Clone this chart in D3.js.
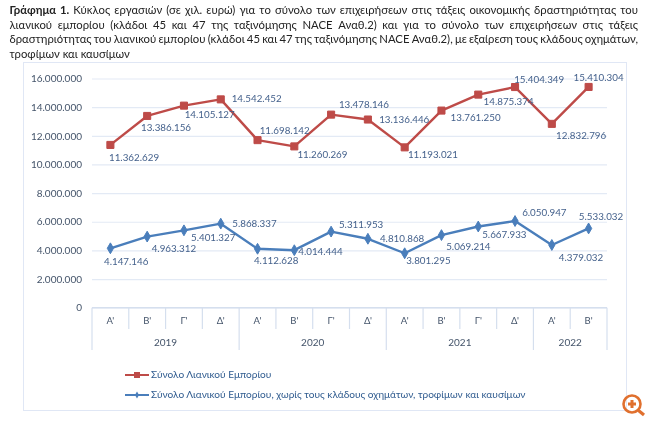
<!DOCTYPE html>
<html><head><meta charset="utf-8">
<script src="https://cdn.jsdelivr.net/npm/d3@7"></script>
<style>html,body{margin:0;background:#fff}svg{display:block;filter:blur(.45px)}text{font-family:Lato,"Noto Sans",sans-serif}</style>
</head><body><svg id="c" width="650" height="422"></svg>
<script>
const quarters=["Α'","Β'","Γ'","Δ'","Α'","Β'","Γ'","Δ'","Α'","Β'","Γ'","Δ'","Α'","Β'"];
const years=[["2019",4],["2020",4],["2021",4],["2022",2]];
const retailName="Σύνολο Λιανικού Εμπορίου";
const exclName="Σύνολο Λιανικού Εμπορίου, χωρίς τους κλάδους οχημάτων, τροφίμων και καυσίμων";
const retail=[11362629,13386156,14105127,14542452,11698142,11260269,13478146,13136446,11193021,13761250,14875374,15404349,12832796,15410304];
const excl=[4147146,4963312,5401327,5868337,4112628,4014444,5311953,4810868,3801295,5069214,5667933,6050947,4379032,5533032];
const yTicks=[0,2e6,4e6,6e6,8e6,10e6,12e6,14e6,16e6];
const titleBold="Γράφημα 1.";
const titleLines=[" Κύκλος εργασιών (σε χιλ. ευρώ) για το σύνολο των επιχειρήσεων στις τάξεις οικονομικής δραστηριότητας του",
"λιανικού εμπορίου (κλάδοι 45 και 47 της ταξινόμησης NACE Αναθ.2) και για το σύνολο των επιχειρήσεων στις τάξεις",
"δραστηριότητας του λιανικού εμπορίου (κλάδοι 45 και 47 της ταξινόμησης NACE Αναθ.2), με εξαίρεση τους κλάδους οχημάτων,",
"τροφίμων και καυσίμων"];
const retailLabelOffset=[[-1.4,14],[-6.2,12.8],[.7,10.1],[10.9,.6],[2.1,-9.1],[3.1,9.6],[7.8,-8.9],[11.3,.8],[3.2,8.6],[9.1,8.1],[5.3,8.1],[-.9,-7],[4.3,12.4],[-15.1,-8.7]];
const exclLabelOffset=[[-6.4,14],[4.5,12.7],[7,8],[11.5,1.1],[-3.6,12.5],[3.9,2.1],[7.8,-5.6],[12,.5],[1.5,8.1],[4.7,12.2],[3.9,9.2],[7.1,-8],[7,13.3],[-9.8,-11.1]];

const RED="#be4b48",BLUE="#4a7ebb",GRID="#e3eaf5",AX="#d5dfee",TXT="#44546a",LBL="#44618c",LEG="#2f5b8f";
const fmt=v=>d3.format(",")(v).replace(/,/g,".");
const svg=d3.select("#c");
const x=d3.scaleBand().domain(d3.range(quarters.length)).range([92,607]);
const y=d3.scaleLinear().domain([0,16e6]).range([307.7,78.5]);
const cx=i=>x(i)+x.bandwidth()/2;

// title
titleLines.forEach((t,i)=>{
  const el=svg.append("text").attr("x",9.5).attr("y",14+i*14.6).attr("font-size",11.3).attr("fill","#222");
  if(i===0) el.append("tspan").attr("font-weight",700).text(titleBold);
  el.append("tspan").attr("xml:space","preserve").text(t);
  if(i<3){
    const len=el.node().getComputedTextLength();
    const spaces=((i===0?titleBold:"")+t).split(" ").length-1;
    el.style("word-spacing",((638-9.5-len)/spaces)+"px");
  }
});

// frame
svg.append("rect").attr("x",23.5).attr("y",62.5).attr("width",603).attr("height",348).attr("fill","none").attr("stroke","#e0e7f5");

// grid and y axis
const yAxis=d3.axisLeft(y).tickValues(yTicks).tickFormat(fmt).tickSize(-(607-92)).tickPadding(10);
const gy=svg.append("g").attr("transform","translate(92,0)").call(yAxis);
gy.select(".domain").remove();
gy.selectAll("line").attr("stroke",GRID).attr("stroke-width",1.2);
gy.selectAll("text").attr("font-size",10).attr("fill",TXT);

// category axis
const gx=svg.append("g");
gx.append("line").attr("x1",92).attr("x2",607).attr("y1",y(0)).attr("y2",y(0)).attr("stroke",AX).attr("stroke-width",1.2);
d3.range(quarters.length+1).forEach(i=>{
  const px=i<quarters.length?x(i):607;
  const isYear=d3.cumsum(years,d=>d[1]).includes(i)||i===0;
  gx.append("line").attr("x1",px).attr("x2",px).attr("y1",y(0)).attr("y2",isYear?350:329).attr("stroke",AX).attr("stroke-width",1.2);
});
gx.selectAll("text.q").data(quarters).join("text").attr("class","q").attr("x",(d,i)=>cx(i)).attr("y",322)
  .attr("text-anchor","middle").attr("dominant-baseline","middle").attr("font-size",9.5).attr("fill",TXT).text(d=>d);
let acc=0;
years.forEach(([yr,n])=>{
  gx.append("text").attr("x",x(acc)+x.bandwidth()*n/2).attr("y",343).attr("text-anchor","middle").attr("dominant-baseline","middle")
    .attr("font-size",10).attr("fill",TXT).text(yr);
  acc+=n;
});

// series
const line=d3.line().x((d,i)=>cx(i)).y(d=>y(d));
function drawSeries(vals,off,color,sym,size){
  svg.append("path").attr("d",line(vals)).attr("fill","none").attr("stroke",color).attr("stroke-width",2.4).attr("stroke-linejoin","round");
  const g=svg.append("g");
  g.selectAll("path").data(vals).join("path").attr("d",d3.symbol(sym,size)())
    .attr("transform",(d,i)=>`translate(${cx(i)},${y(d)})`).attr("fill",color).attr("stroke",color);
  g.selectAll("text").data(vals).join("text").attr("x",(d,i)=>cx(i)+off[i][0]).attr("y",(d,i)=>y(d)+off[i][1])
    .attr("dominant-baseline","middle").attr("font-size",9.8).attr("fill",LBL).text(fmt);
}
drawSeries(retail,retailLabelOffset,RED,d3.symbolSquare,50);
drawSeries(excl,exclLabelOffset,BLUE,d3.symbolDiamond,34);

// legend
[[retailName,RED,d3.symbolSquare,36,375],[exclName,BLUE,d3.symbolDiamond,14,395]].forEach(([name,c,s,sz,ly])=>{
  svg.append("line").attr("x1",125).attr("x2",149).attr("y1",ly).attr("y2",ly).attr("stroke",c).attr("stroke-width",2);
  svg.append("path").attr("d",d3.symbol(s,sz)()).attr("transform",`translate(137,${ly})`).attr("fill",c);
  svg.append("text").attr("x",151).attr("y",ly).attr("dominant-baseline","middle").attr("font-size",10.1).attr("fill",LEG).text(name);
});

// magnifier badge of the source page
const m=svg.append("g").attr("transform","translate(632,404)").attr("fill","none").attr("stroke","#e0702e").attr("stroke-width",2.6);
m.append("circle").attr("r",8.5);
m.append("line").attr("x1",6.5).attr("y1",6.5).attr("x2",12).attr("y2",11).attr("stroke-width",3.2);
m.append("path").attr("d","M-4 0H4M0 -4V4").attr("stroke-width",3);
</script></body></html>
